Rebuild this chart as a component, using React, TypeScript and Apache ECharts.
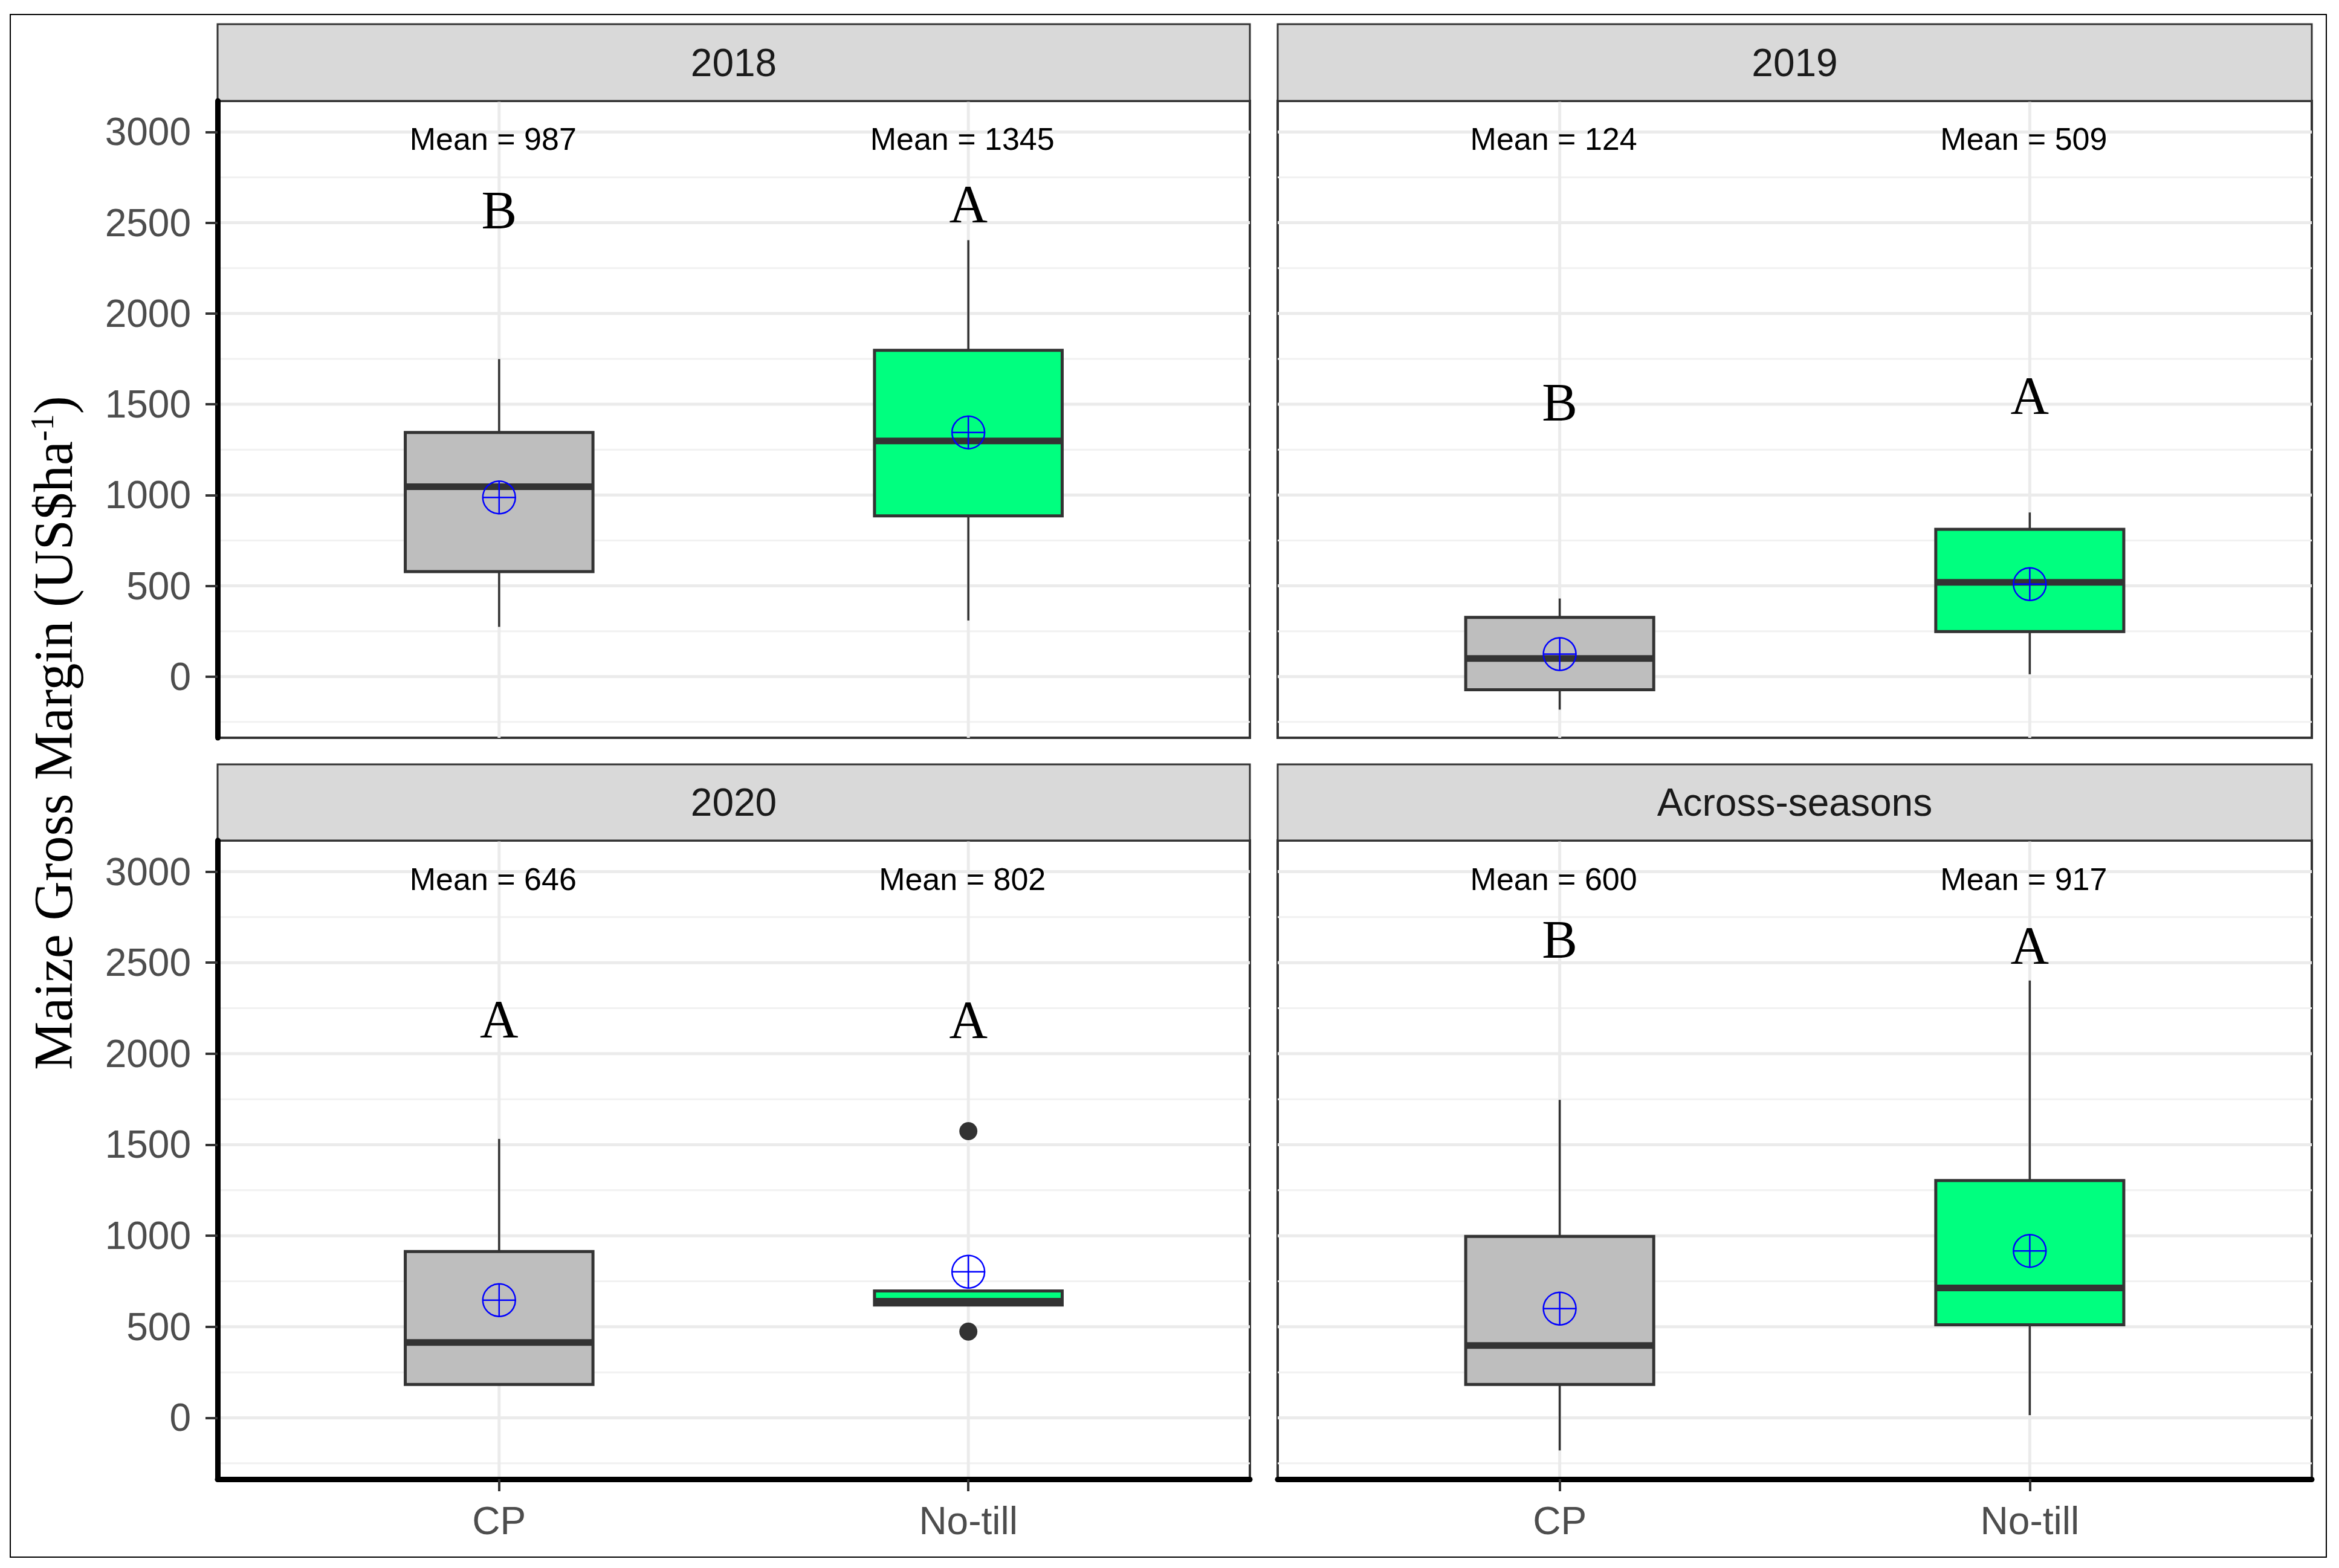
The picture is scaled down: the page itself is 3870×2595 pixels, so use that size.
import React, { useEffect, useRef } from 'react';
import * as echarts from 'echarts';

// ---------- DATA ----------
const panelTitles = ['2018', '2019', '2020', 'Across-seasons'];
const treatments = ['CP', 'No-till'];

// five-number summaries: [lower whisker, Q1, median, Q3, upper whisker]
const cp2018 = [274, 578, 1046, 1345, 1749];
const noTill2018 = [309, 885, 1298, 1797, 2404];
const cp2019 = [-182, -72, 100, 326, 430];
const noTill2019 = [13, 248, 519, 811, 904];
const cp2020 = [183, 183, 414, 913, 1532];
const noTill2020 = [620, 620, 640, 697, 697];
const cpAcross = [-179, 183, 397, 996, 1746];
const noTillAcross = [15, 511, 713, 1303, 2402];

// means (CP, No-till)
const means2018 = [987, 1345];
const means2019 = [124, 509];
const means2020 = [646, 802];
const meansAcross = [600, 917];

// significance letters and their heights (CP, No-till)
const letters2018 = ['B', 'A'];
const letters2019 = ['B', 'A'];
const letters2020 = ['A', 'A'];
const lettersAcross = ['B', 'A'];
const letterY2018 = [2570, 2604];
const letterY2019 = [1512, 1548];
const letterY2020 = [2190, 2186];
const letterYAcross = [2630, 2594];

// outliers (No-till 2020)
const outliersNoTill2020 = [1575, 474];

const meanLabelY = 2960;
const yTicks = [0, 500, 1000, 1500, 2000, 2500, 3000];
const yMinor = [-250, 250, 750, 1250, 1750, 2250, 2750];
const yMin = -337;
const yMax = 3171;
const xMin = 0.4;
const xMax = 2.6;

// ---------- STYLE / LAYOUT ----------
const FILLS = ['#BEBEBE', '#00FF7F'];
const BOX_WIDTH = 0.4;
const SANS = '"Liberation Sans", Arial, sans-serif';
const SERIF = '"Liberation Serif", "Times New Roman", serif';

const gridRects = [
  { left: 360, top: 167, width: 1708, height: 1054 },
  { left: 2114, top: 167, width: 1711, height: 1054 },
  { left: 360, top: 1391, width: 1708, height: 1057 },
  { left: 2114, top: 1391, width: 1711, height: 1057 },
];
const stripTops = [40, 40, 1265, 1265];

const panels = [
  { stats: [cp2018, noTill2018], means: means2018, letters: letters2018, letterY: letterY2018, outliers: [[], []] },
  { stats: [cp2019, noTill2019], means: means2019, letters: letters2019, letterY: letterY2019, outliers: [[], []] },
  { stats: [cp2020, noTill2020], means: means2020, letters: letters2020, letterY: letterY2020, outliers: [[], outliersNoTill2020] },
  { stats: [cpAcross, noTillAcross], means: meansAcross, letters: lettersAcross, letterY: letterYAcross, outliers: [[], []] },
];

function buildOption() {
  const grid: any[] = [];
  const xAxis: any[] = [];
  const yAxis: any[] = [];
  const series: any[] = [];
  const graphic: any[] = [];

  panels.forEach((p, i) => {
    const g = gridRects[i];
    const isLeft = i % 2 === 0;
    const isBottom = i >= 2;
    grid.push({
      left: g.left, top: g.top, width: g.width, height: g.height,
      show: true, backgroundColor: '#FFFFFF', borderColor: '#333333', borderWidth: 4,
      containLabel: false,
    });
    xAxis.push({
      type: 'value', gridIndex: i, min: xMin, max: xMax, z: 10,
      axisLine: { show: isBottom, onZero: false, lineStyle: { color: '#000000', width: 9 } },
      axisTick: { show: isBottom, customValues: [1, 2], length: 20, lineStyle: { color: '#333333', width: 4 } },
      axisLabel: {
        show: isBottom, customValues: [1, 2], margin: 37,
        formatter: (v: number) => treatments[Math.round(v) - 1] || '',
        fontSize: 64, fontFamily: SANS, color: '#4D4D4D',
      },
      splitLine: { show: false },
    });
    yAxis.push({
      type: 'value', gridIndex: i, min: yMin, max: yMax, z: 10,
      axisLine: { show: isLeft, onZero: false, lineStyle: { color: '#000000', width: 9 } },
      axisTick: { show: isLeft, customValues: yTicks, length: 20, lineStyle: { color: '#333333', width: 4 } },
      axisLabel: {
        show: isLeft, customValues: yTicks, margin: 44,
        formatter: (v: number) => String(Math.round(v)),
        fontSize: 64, fontFamily: SANS, color: '#4D4D4D',
      },
      splitLine: { show: false },
    });

    // grid lines
    const gridData: number[][] = [];
    yTicks.forEach((v) => gridData.push([xMin, v, 0]));
    yMinor.forEach((v) => gridData.push([xMin, v, 1]));
    [1, 2].forEach((x) => gridData.push([x, yMin, 2]));
    series.push({
      type: 'custom', xAxisIndex: i, yAxisIndex: i, z: 1, silent: true,
      data: gridData,
      renderItem: (params: any, api: any) => {
        const kind = api.value(2);
        if (kind === 2) {
          const x = api.value(0);
          const a = api.coord([x, yMin]);
          const b = api.coord([x, yMax]);
          return { type: 'line', shape: { x1: a[0], y1: a[1], x2: b[0], y2: b[1] }, style: { stroke: '#EBEBEB', lineWidth: 5 } };
        }
        const v = api.value(1);
        const a = api.coord([xMin, v]);
        const b = api.coord([xMax, v]);
        return {
          type: 'line', shape: { x1: a[0], y1: a[1], x2: b[0], y2: b[1] },
          style: { stroke: kind === 0 ? '#EBEBEB' : '#F1F1F1', lineWidth: kind === 0 ? 5 : 3 },
        };
      },
    });

    // boxes
    const boxData = p.stats.map((s, k) => [k + 1, ...s, p.means[k]]);
    series.push({
      type: 'custom', xAxisIndex: i, yAxisIndex: i, z: 3, silent: true,
      data: boxData,
      renderItem: (params: any, api: any) => {
        const x = api.value(0);
        const y = (d: number) => api.coord([x, api.value(d)])[1];
        const cx = api.coord([x, 0])[0];
        const half = api.size([BOX_WIDTH, 0])[0] / 2;
        const yLo = y(1), yQ1 = y(2), yMed = y(3), yQ3 = y(4), yHi = y(5), yMean = y(6);
        const r = 27;
        const blue = { stroke: '#0000FF', lineWidth: 2.5, fill: 'none' };
        return {
          type: 'group',
          children: [
            { type: 'line', shape: { x1: cx, y1: yHi, x2: cx, y2: yQ3 }, style: { stroke: '#333333', lineWidth: 3.5 } },
            { type: 'line', shape: { x1: cx, y1: yQ1, x2: cx, y2: yLo }, style: { stroke: '#333333', lineWidth: 3.5 } },
            {
              type: 'rect', shape: { x: cx - half, y: yQ3, width: 2 * half, height: yQ1 - yQ3 },
              style: { fill: FILLS[params.dataIndex], stroke: '#333333', lineWidth: 5 },
            },
            { type: 'line', shape: { x1: cx - half, y1: yMed, x2: cx + half, y2: yMed }, style: { stroke: '#333333', lineWidth: 11 } },
            { type: 'circle', shape: { cx, cy: yMean, r }, style: blue },
            { type: 'line', shape: { x1: cx - r, y1: yMean, x2: cx + r, y2: yMean }, style: blue },
            { type: 'line', shape: { x1: cx, y1: yMean - r, x2: cx, y2: yMean + r }, style: blue },
          ],
        };
      },
    });

    // outliers
    const outData: number[][] = [];
    p.outliers.forEach((arr, k) => arr.forEach((v) => outData.push([k + 1, v])));
    if (outData.length) {
      series.push({
        type: 'scatter', xAxisIndex: i, yAxisIndex: i, z: 4, silent: true,
        symbol: 'circle', symbolSize: 30, itemStyle: { color: '#333333', opacity: 1 },
        data: outData,
      });
    }

    // mean labels
    series.push({
      type: 'custom', xAxisIndex: i, yAxisIndex: i, z: 5, silent: true,
      data: [[1, meanLabelY], [2, meanLabelY]],
      renderItem: (params: any, api: any) => {
        const pt = api.coord([api.value(0), api.value(1)]);
        return {
          type: 'text', x: pt[0] - 10, y: pt[1],
          style: {
            text: 'Mean = ' + p.means[params.dataIndex], fill: '#000000',
            fontSize: 52, fontFamily: SANS, align: 'center', verticalAlign: 'middle',
          },
        };
      },
    });

    // letters
    series.push({
      type: 'custom', xAxisIndex: i, yAxisIndex: i, z: 5, silent: true,
      data: p.letterY.map((v, k) => [k + 1, v]),
      renderItem: (params: any, api: any) => {
        const pt = api.coord([api.value(0), api.value(1)]);
        return {
          type: 'text', x: pt[0], y: pt[1],
          style: {
            text: p.letters[params.dataIndex], fill: '#000000',
            fontSize: 88, fontFamily: SERIF, align: 'center', verticalAlign: 'middle',
          },
        };
      },
    });

    // strip
    const st = stripTops[i];
    graphic.push({
      type: 'rect', z: 5,
      shape: { x: g.left, y: st, width: g.width, height: g.top - st },
      style: { fill: '#D9D9D9', stroke: '#333333', lineWidth: 3 },
    });
    graphic.push({
      type: 'text', z: 6,
      x: g.left + g.width / 2, y: (st + g.top) / 2,
      style: {
        text: panelTitles[i], fill: '#1A1A1A', fontSize: 64, fontFamily: SANS,
        align: 'center', verticalAlign: 'middle',
      },
    });
  });

  // outer frame
  graphic.push({
    type: 'rect', z: 0,
    shape: { x: 17, y: 24, width: 3832, height: 2553 },
    style: { fill: 'none', stroke: '#000000', lineWidth: 2 },
  });

  // y axis title
  graphic.push({
    type: 'text', z: 6, x: 88, y: 1213, rotation: Math.PI / 2,
    style: {
      text: '{t|Maize Gross Margin (US$ha}{s|-1}{t|)}',
      align: 'center', verticalAlign: 'middle',
      rich: {
        t: { fontFamily: SERIF, fontSize: 90, fill: '#000000', color: '#000000' },
        s: { fontFamily: SERIF, fontSize: 54, fill: '#000000', color: '#000000', verticalAlign: 'top' },
      },
    },
  });

  return {
    animation: false,
    backgroundColor: '#FFFFFF',
    grid, xAxis, yAxis, series, graphic,
  };
}

export default function App() {
  const ref = useRef<HTMLDivElement>(null);
  useEffect(() => {
    document.body.style.margin = '0';
    if (!ref.current) return;
    const chart = echarts.init(ref.current, undefined, { renderer: 'svg' });
    chart.setOption(buildOption() as any);
    return () => chart.dispose();
  }, []);
  return (
    <div
      ref={ref}
      style={{ position: 'absolute', left: 0, top: 0, width: '3870px', height: '2595px', background: '#FFFFFF' }}
    />
  );
}
